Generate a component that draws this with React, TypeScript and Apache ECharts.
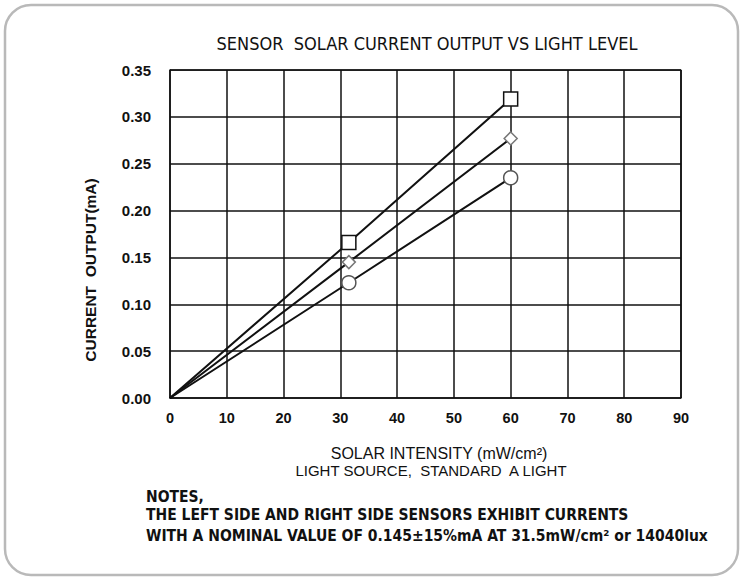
import React, { useEffect, useRef } from "react";
import * as echarts from "echarts";

// Solar intensity (mW/cm²) at which the sensors were measured
const intensity = [0, 31.5, 60];
// Current output (mA) for each sensor curve
const squareSeries = [0, 0.166, 0.319];
const diamondSeries = [0, 0.145, 0.277];
const circleSeries = [0, 0.123, 0.235];

const xTicks = [0, 10, 20, 30, 40, 50, 60, 70, 80, 90];
const yTicks = ["0.00", "0.05", "0.10", "0.15", "0.20", "0.25", "0.30", "0.35"];

const titleText = "SENSOR  SOLAR CURRENT OUTPUT VS LIGHT LEVEL";
const yName = "CURRENT  OUTPUT(mA)";
const xNameLine1 = "SOLAR INTENSITY (mW/cm²)";
const xNameLine2 = "LIGHT SOURCE,  STANDARD  A LIGHT";
const notes = [
  "NOTES,",
  "THE LEFT SIDE AND RIGHT SIDE SENSORS EXHIBIT CURRENTS",
  "WITH A NOMINAL VALUE OF 0.145±15%mA AT 31.5mW/cm² or 14040lux",
];

const FONT = "'Liberation Sans', Arial, sans-serif";
const NARROW = "'Liberation Sans Narrow', 'DejaVu Sans Condensed', sans-serif";

function pairs(ys: number[]) {
  return intensity.map((x, i) => [x, ys[i]]);
}

export default function App() {
  const ref = useRef<HTMLDivElement>(null);
  useEffect(() => {
    if (!ref.current) return;
    const chart = echarts.init(ref.current, undefined, { renderer: "svg" });
    const lineStyle = { color: "#111", width: 2 };
    const sym = (ys: number[], symbol: string, size: number, color: string) => ({
      type: "line" as const,
      data: pairs(ys),
      symbol,
      symbolSize: (_v: any, p: any) => (p.dataIndex === 0 ? 0 : size),
      showSymbol: true,
      lineStyle,
      itemStyle: { color: "#fff", borderColor: color, borderWidth: 1.5 },
      z: 3,
    });
    chart.setOption({
      animation: false,
      backgroundColor: "#fff",
      title: {
        text: titleText,
        left: 422,
        top: 29,
        textAlign: "center",
        textStyle: { fontFamily: NARROW, fontSize: 18, fontWeight: "normal", color: "#111" },
      },
      grid: { left: 170, right: 61, top: 70, bottom: 180, containLabel: false },
      xAxis: {
        type: "value",
        min: 0,
        max: 90,
        interval: 10,
        axisLine: { show: true, lineStyle: { color: "#111", width: 1.5 } },
        axisTick: { show: false },
        axisLabel: {
          fontFamily: FONT,
          fontSize: 14.5,
          fontWeight: "bold",
          color: "#111",
          margin: 12,
          formatter: (v: number) => (xTicks.includes(v) ? String(v) : ""),
        },
        splitLine: { show: true, lineStyle: { color: "#111", width: 1.5 } },
      },
      yAxis: {
        type: "value",
        min: 0,
        max: 0.35,
        interval: 0.05,
        axisLine: { show: true, lineStyle: { color: "#111", width: 1.5 } },
        axisTick: { show: false },
        axisLabel: {
          fontFamily: FONT,
          fontSize: 15,
          fontWeight: "bold",
          color: "#111",
          margin: 19,
          formatter: (v: number) => yTicks[Math.round(v / 0.05)] ?? "",
        },
        splitLine: { show: true, lineStyle: { color: "#111", width: 1.5 } },
      },
      series: [
        sym(squareSeries, "rect", 14, "#111"),
        sym(diamondSeries, "diamond", 13, "#777"),
        sym(circleSeries, "circle", 14, "#555"),
        {
          type: "line",
          data: [[90, 0], [90, 0.35], [0, 0.35]],
          symbol: "none",
          lineStyle: { color: "#111", width: 1.5 },
          silent: true,
          z: 1,
        },
      ],
      graphic: [
        {
          type: "rect",
          shape: { x: 5, y: 5, width: 733, height: 570, r: 26 },
          style: { fill: "none", stroke: "#b9b9b9", lineWidth: 2.5 },
          silent: true,
        },
        {
          type: "text",
          x: 90,
          y: 270,
          rotation: Math.PI / 2,
          style: {
            text: yName,
            fontFamily: FONT,
            fontSize: 15.5,
            fontWeight: "bold",
            fill: "#111",
            align: "center",
            verticalAlign: "middle",
          },
        },
        {
          type: "text",
          x: 439,
          y: 453,
          style: {
            text: xNameLine1,
            fontFamily: FONT,
            fontSize: 16,
            fill: "#111",
            align: "center",
            verticalAlign: "middle",
          },
        },
        {
          type: "text",
          x: 431,
          y: 470,
          style: {
            text: xNameLine2,
            fontFamily: FONT,
            fontSize: 15,
            fill: "#111",
            align: "center",
            verticalAlign: "middle",
          },
        },
        ...notes.map((t, i) => ({
          type: "text",
          x: 146,
          y: [497, 515, 536][i],
          style: {
            text: t,
            fontFamily: NARROW,
            fontSize: 15.5,
            fontWeight: "bold",
            fill: "#111",
            verticalAlign: "middle",
          },
        })),
      ],
    });
    return () => chart.dispose();
  }, []);
  return (
    <div
      ref={ref}
      style={{ position: "fixed", left: 0, top: 0, width: 742, height: 578 }}
    />
  );
}
